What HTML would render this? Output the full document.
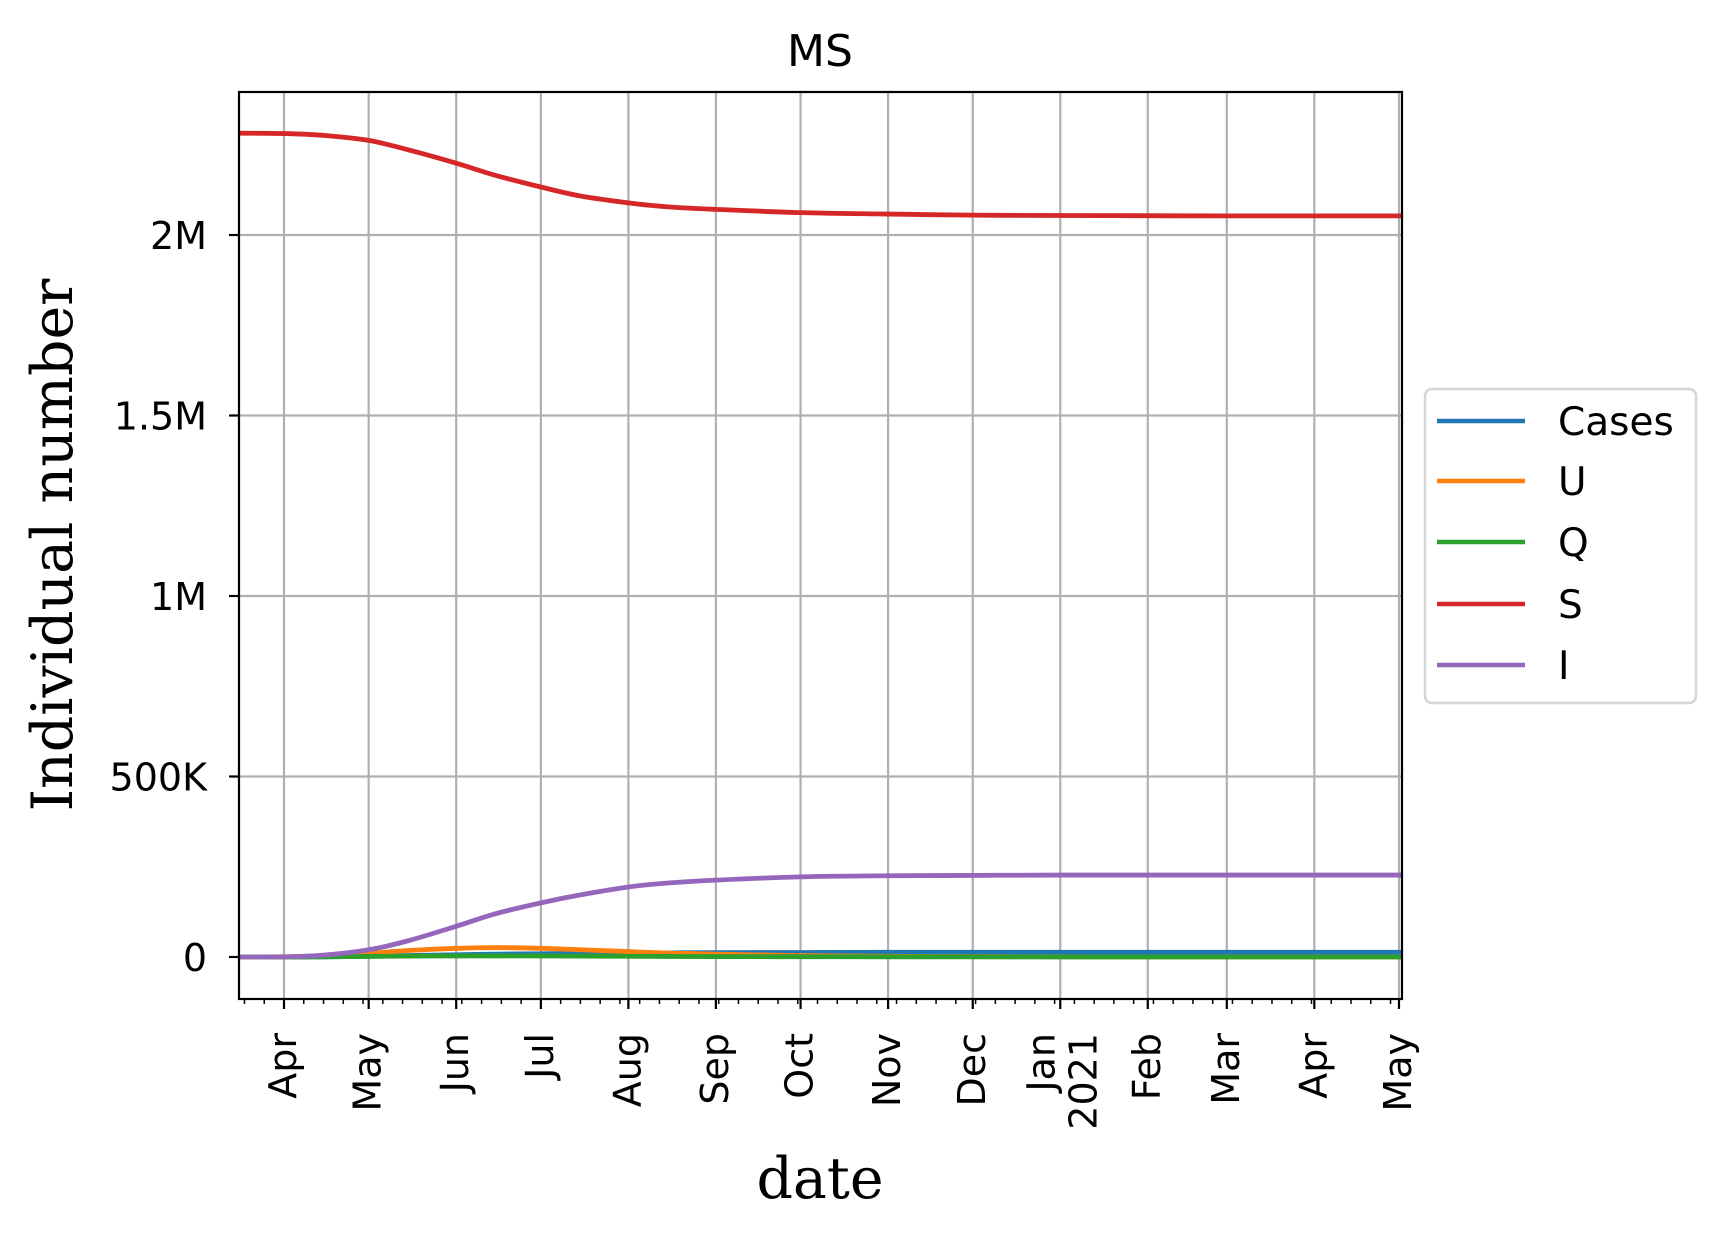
<!DOCTYPE html>
<html><head><meta charset="utf-8"><style>
html,body{margin:0;padding:0;background:#fff}
svg{display:block}
text{font-family:"DejaVu Sans","Liberation Sans",sans-serif}
</style></head><body>
<svg id="chart" width="1725" height="1236" viewBox="0 0 1725 1236" xmlns="http://www.w3.org/2000/svg">
<g id="grid"></g>
<g id="series"></g>
<g id="axes"></g>
<text x="820" y="66" font-size="44" text-anchor="middle">MS</text>
<text transform="translate(72,545) rotate(-90)" font-size="57" text-anchor="middle" style="font-family:'DejaVu Serif','Liberation Serif',serif">Individual number</text>
<text x="820" y="1198" font-size="57" text-anchor="middle" style="font-family:'DejaVu Serif','Liberation Serif',serif">date</text>
<g id="legend"></g>
</svg>
<script>
const dates = ["2020-03-16","2020-04-01","2020-04-15","2020-05-01","2020-05-15","2020-06-01","2020-06-15","2020-07-01","2020-07-15","2020-08-01","2020-08-15","2020-09-01","2020-10-01","2020-11-01","2020-12-01","2021-01-01","2021-03-01","2021-05-02"];
const seriesNames = ["Cases","U","Q","S","I"];
const seriesColors = ["#1f77b4","#ff7f0e","#2ca02c","#d62728","#9467bd"];
const casesVals = [0,0,500,2000,4000,6000,8000,9000,10000,11000,11500,12000,12500,13000,13000,13000,13000,13000];
const uVals = [0,500,3000,10000,18000,24000,26000,24000,20000,15000,11000,8000,4000,2000,1000,500,0,0];
const qVals = [0,0,500,1500,2500,3000,3000,3000,2500,2000,1500,1200,800,500,300,200,100,100];
const sVals = [2282000,2281000,2276000,2262000,2236000,2199000,2165000,2133000,2108000,2089000,2078000,2071000,2062000,2058000,2055000,2054000,2053000,2053000];
const iVals = [0,500,5000,20000,45000,85000,120000,150000,172000,194000,205000,213000,222000,225000,226000,227000,227000,227000];
const yTicks = [0,500000,1000000,1500000,2000000];
const yTickLabels = ["0","500K","1M","1.5M","2M"];
const monthTicks = ["2020-04-01","2020-05-01","2020-06-01","2020-07-01","2020-08-01","2020-09-01","2020-10-01","2020-11-01","2020-12-01","2021-01-01","2021-02-01","2021-03-01","2021-04-01","2021-05-01"];
const monthLabels = ["Apr","May","Jun","Jul","Aug","Sep","Oct","Nov","Dec","Jan|2021","Feb","Mar","Apr","May"];

const NS="http://www.w3.org/2000/svg";
const L=239,R=1402,T=92,B=999;
const day0=Date.UTC(2020,3,1);
function dnum(s){const p=s.split("-");return (Date.UTC(+p[0],+p[1]-1,+p[2])-day0)/86400000;}
const pxPerDay=(1399-284)/395;
function X(s){return 284+dnum(s)*pxPerDay;}
function Xd(d){return 284+d*pxPerDay;}
function Y(v){return 957-v*361/1e6;}
function mk(tag,attrs,parent){const e=document.createElementNS(NS,tag);for(const k in attrs)e.setAttribute(k,attrs[k]);parent.appendChild(e);return e;}
const grid=document.getElementById("grid"),axes=document.getElementById("axes"),ser=document.getElementById("series"),leg=document.getElementById("legend");

monthTicks.forEach((m,i)=>{
  const x=X(m);
  const g=mk("line",{x1:x,x2:x,y1:T,y2:B,stroke:"#b0b0b0","stroke-width":2.2},grid);
  
  
  const t=mk("line",{x1:x,x2:x,y1:B,y2:B+10,stroke:"#000","stroke-width":2.2},axes);
  
  
  const parts=monthLabels[i].split("|");
  parts.forEach((p,j)=>{
    const tx=mk("text",{transform:`translate(${x+12+j*42-(parts.length-1)*18},1033) rotate(-90)`,"font-size":38,"text-anchor":"end"},axes);
    tx.textContent=p;
    
    
  });
});
for(let d=-14;d<=396;d+=7){
  const x=Xd(d); if(x<L||x>R)continue;
  const t=mk("line",{x1:x,x2:x,y1:B,y2:B+5,stroke:"#000","stroke-width":1.5},axes);
  
  
}
yTicks.forEach((v,i)=>{
  const y=Y(v);
  const g=mk("line",{x1:L,x2:R,y1:y,y2:y,stroke:"#b0b0b0","stroke-width":2.2},grid);
  
  
  const t=mk("line",{x1:L-10,x2:L,y1:y,y2:y,stroke:"#000","stroke-width":2.2},axes);
  
  
  const tx=mk("text",{x:L-32,y:y+14,"font-size":38,"text-anchor":"end"},axes);
  tx.textContent=yTickLabels[i];
  
  
});
const frame=mk("rect",{x:L,y:T,width:R-L,height:B-T,fill:"none",stroke:"#000","stroke-width":2.2},axes);



function pathFor(vals){
  const pts=dates.map((d,i)=>[X(d),Y(vals[i])]);
  pts[0][0]=L; pts[pts.length-1][0]=R;
  let s=`M${pts[0][0]},${pts[0][1]}`;
  for(let i=0;i<pts.length-1;i++){
    const p0=pts[Math.max(0,i-1)],p1=pts[i],p2=pts[i+1],p3=pts[Math.min(pts.length-1,i+2)];
    const c1=[p1[0]+(p2[0]-p0[0])/6,p1[1]+(p2[1]-p0[1])/6];
    const c2=[p2[0]-(p3[0]-p1[0])/6,p2[1]-(p3[1]-p1[1])/6];
    s+=`C${c1[0]},${c1[1]} ${c2[0]},${c2[1]} ${p2[0]},${p2[1]}`;
  }
  return s;
}
const allVals=[casesVals,uVals,qVals,sVals,iVals];
allVals.forEach((v,i)=>{
  const p=mk("path",{d:pathFor(v),fill:"none",stroke:seriesColors[i],"stroke-width":4.8},ser);
  
  
});
const box=mk("rect",{x:1425,y:389,width:271,height:314,rx:7,fill:"#fff",stroke:"#d5d5d5","stroke-width":2.5},leg);


const rowY=[421,481,542,604,665];
seriesNames.forEach((n,i)=>{
  const g=mk("g",{},leg);
  
  
  mk("line",{x1:1437,x2:1525,y1:rowY[i],y2:rowY[i],stroke:seriesColors[i],"stroke-width":4.5},g);
  const t=mk("text",{x:1558,y:rowY[i]+14,"font-size":39},g);
  t.textContent=n;
});
</script>
</body></html>
